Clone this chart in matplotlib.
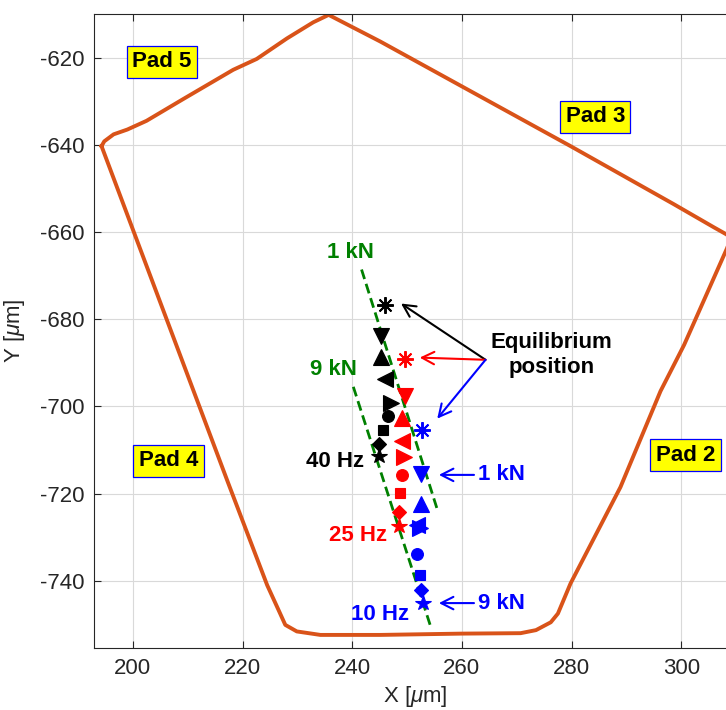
import matplotlib
matplotlib.use("Agg")
import matplotlib.pyplot as plt

plt.rcParams['font.family'] = ['Liberation Sans', 'DejaVu Sans']
plt.rcParams['mathtext.fontset'] = 'custom'
plt.rcParams['mathtext.it'] = 'Liberation Sans:italic'
plt.rcParams['mathtext.rm'] = 'Liberation Sans'
plt.rcParams['axes.unicode_minus'] = False

# Pad outline (measured contour), in micrometres
outline_x = [194.3, 194.8, 196.5, 199.0, 202.5, 209.2, 218.3, 222.6, 228.1, 232.9,
             235.7, 245.1, 274.3, 279.8, 298.6, 305.9, 308.3, 309.0, 308.3, 300.5,
             296.2, 288.9, 279.8, 277.5, 276.2, 273.5, 270.7, 260.0, 245.1, 234.2,
             229.9, 227.8, 226.5, 224.5, 217.4, 194.3]
outline_y = [-640.3, -639.2, -637.6, -636.5, -634.5, -629.5, -622.8, -620.3, -615.6, -611.9,
             -610.2, -616.3, -636.5, -640.3, -653.6, -658.9, -660.6, -661.5, -663.8, -685.9,
             -696.5, -718.5, -740.6, -747.5, -749.5, -751.3, -752.0, -752.1, -752.4, -752.4,
             -751.6, -750.1, -746.5, -741.0, -717.6, -640.3]

# Shaft centre positions: equilibrium, then 1 kN ... 9 kN load steps
black_x = [245.9, 245.3, 245.3, 246.0, 247.1, 246.5, 245.7, 244.9, 244.9]
black_y = [-676.7, -683.9, -688.7, -693.7, -699.2, -702.3, -705.5, -708.6, -711.3]
red_x = [249.6, 249.6, 249.1, 249.1, 249.5, 249.1, 248.8, 248.5, 248.6]
red_y = [-689.1, -697.7, -702.7, -707.9, -711.7, -715.7, -719.9, -724.3, -727.5]
blue_x = [252.7, 252.5, 252.5, 251.8, 252.3, 251.9, 252.3, 252.5, 252.9]
blue_y = [-705.3, -715.4, -722.3, -727.1, -727.9, -733.8, -738.6, -742.1, -745.1]

# Constant-load guide lines
load1_x = [241.7, 255.6]
load1_y = [-668.6, -724.0]
load9_x = [240.2, 254.2]
load9_y = [-695.5, -750.1]

pad_names = ['Pad 5', 'Pad 3', 'Pad 4', 'Pad 2']
pad_x = [205.3, 284.3, 206.5, 300.8]
pad_y = [-621.0, -633.6, -712.5, -711.2]

markers = [(8, 2, 0), 'v', '^', '<', '>', 'o', 's', 'D', '*']
sizes = [12, 11, 11, 11, 11, 8.5, 7.5, 7.0, 11.5]

fig = plt.figure(figsize=(7.26, 7.10), dpi=100)
ax = fig.add_axes([94.4 / 726, 62 / 710, (736.2 - 94.4) / 726, 634 / 710])
ax.set_xlim(193, 310)
ax.set_ylim(-755.4, -610)

ax.grid(True, color='#d9d9d9', linewidth=0.8)
ax.set_axisbelow(True)

ax.plot(outline_x, outline_y, color='#D95319', linewidth=2.8, solid_joinstyle='round', zorder=2)

dash = dict(color='#008000', linewidth=2.0, dashes=(3.6, 1.8), zorder=3)
ax.plot(load1_x, load1_y, **dash)
ax.plot(load9_x, load9_y, **dash)

for xs, ys, col in [(black_x, black_y, 'black'), (red_x, red_y, 'red'), (blue_x, blue_y, 'blue')]:
    for x, y, m, s in zip(xs, ys, markers, sizes):
        if m == (8, 2, 0):
            ax.plot(x, y, marker=m, markersize=s, color=col, markeredgewidth=1.4,
                    linestyle='none', zorder=4)
        else:
            ax.plot(x, y, marker=m, markersize=s, color=col, markeredgecolor=col,
                    markeredgewidth=0.8, linestyle='none', zorder=4)

bold = dict(fontsize=16, fontweight='bold')
ax.text(239.7, -664.8, '1 kN', color='#008000', ha='center', va='center', **bold)
ax.text(236.6, -691.6, '9 kN', color='#008000', ha='center', va='center', **bold)
ax.text(242.1, -712.6, '40 Hz', color='black', ha='right', va='center', **bold)
ax.text(246.3, -729.7, '25 Hz', color='red', ha='right', va='center', **bold)
ax.text(250.3, -747.8, '10 Hz', color='blue', ha='right', va='center', **bold)

ax.text(276.3, -688.3, 'Equilibrium\nposition', color='black', ha='center', va='center',
        linespacing=1.25, **bold)

arrow = dict(arrowstyle='->,head_length=0.55,head_width=0.28', lw=1.5,
             shrinkA=0, shrinkB=0, mutation_scale=16)
ax.annotate('', xy=(248.9, -676.4), xytext=(264.3, -689.3), arrowprops=dict(color='black', **arrow))
ax.annotate('', xy=(252.3, -688.8), xytext=(264.3, -689.3), arrowprops=dict(color='red', **arrow))
ax.annotate('', xy=(255.5, -702.8), xytext=(264.3, -689.3), arrowprops=dict(color='blue', **arrow))

ax.annotate('', xy=(255.8, -715.7), xytext=(262.2, -715.7), arrowprops=dict(color='blue', **arrow))
ax.annotate('', xy=(255.8, -745.1), xytext=(262.2, -745.1), arrowprops=dict(color='blue', **arrow))
ax.text(263.0, -715.7, '1 kN', color='blue', ha='left', va='center', **bold)
ax.text(263.0, -745.1, '9 kN', color='blue', ha='left', va='center', **bold)

for name, x, y in zip(pad_names, pad_x, pad_y):
    ax.text(x, y, name, color='black', ha='center', va='center', **bold,
            bbox=dict(boxstyle='square,pad=0.25', facecolor='yellow', edgecolor='blue', linewidth=0.9))

ax.set_xticks([200, 220, 240, 260, 280, 300])
ax.set_yticks([-740, -720, -700, -680, -660, -640, -620])
ax.tick_params(direction='in', length=4.7, width=0.8, colors='#262626', labelsize=16,
               top=True, right=True, pad=7)
for sp in ax.spines.values():
    sp.set_color('#262626')
    sp.set_linewidth(0.8)

ax.set_xlabel(r'X [$\mu$m]', fontsize=16, color='#262626', labelpad=4)
ax.set_ylabel(r'Y [$\mu$m]', fontsize=16, color='#262626')
ax.yaxis.set_label_coords(-0.105, 0.5)

fig.savefig('out.png', dpi=100)
